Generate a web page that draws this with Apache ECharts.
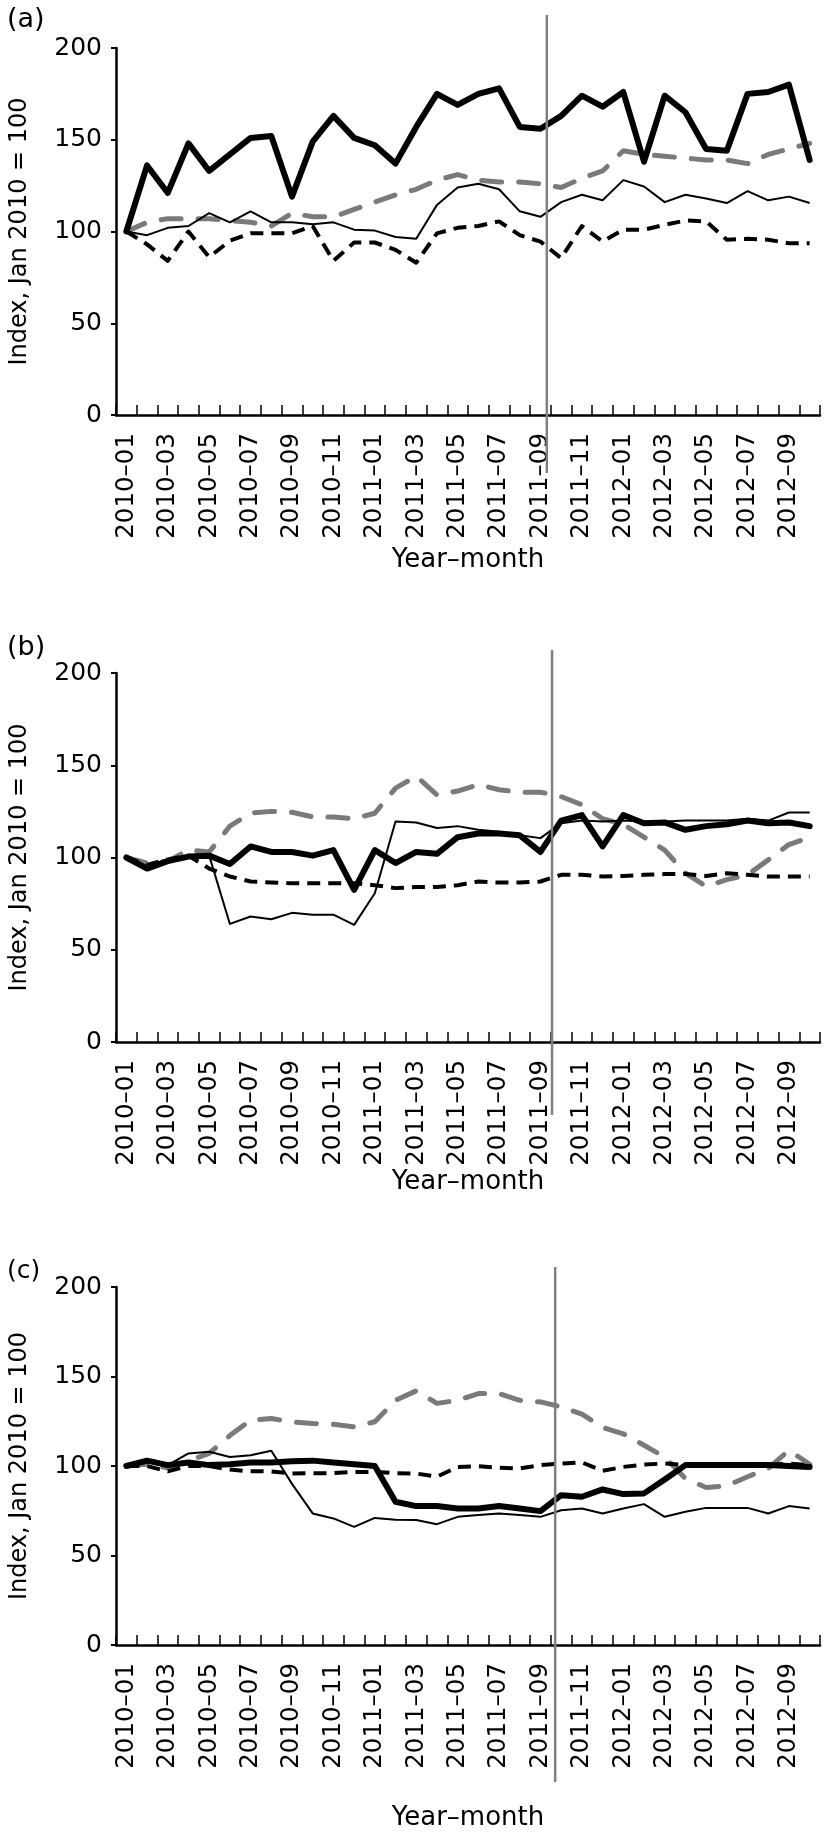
<!DOCTYPE html>
<html><head><meta charset="utf-8">
<script src="https://cdn.jsdelivr.net/npm/echarts@6/dist/echarts.min.js"></script>
<style>html,body{margin:0;padding:0;background:#fff}#c{width:825px;height:1832px}</style>
</head><body><div id="c"></div>
<script>
// ---------- data ----------
const months = [
  '2010–01','2010–02','2010–03','2010–04','2010–05','2010–06','2010–07','2010–08','2010–09','2010–10','2010–11','2010–12',
  '2011–01','2011–02','2011–03','2011–04','2011–05','2011–06','2011–07','2011–08','2011–09','2011–10','2011–11','2011–12',
  '2012–01','2012–02','2012–03','2012–04','2012–05','2012–06','2012–07','2012–08','2012–09','2012–10'
];
const yTickValues = [0, 50, 100, 150, 200];
const panelLabels = ['(a)', '(b)', '(c)'];
const xAxisTitle = 'Year–month';
const yAxisTitle = 'Index, Jan 2010 = 100';

// panel (a)
const aThick = [100,136,121,148,133,142,151,152,119,149,163,151,147,137,157,175,169,175,178,157,156,163,174,168,176,138,174,165,145,144,175,176,180,139];
const aThin = [100,98,102,103,110,105,111,105,105,104,105,101,100.5,97,96,114.5,124,126,123,111,108,116,120,117,128,124.5,116,120,118,115.5,122,117,119,115.5];
const aGrayDash = [100,105,107,107,107,106,105,103,110,108,108,112,116,120,123,128,131,128,127,127,126,124,129,133,144,142,141,140,139,139,137,142,145,148];
const aBlackDash = [100,93,84,100,86,95,99,99,99,103,84,94,94,90,83,99,102,103,105.5,98,94.5,85.5,103,94.5,101,101,103.6,106,105.5,95.5,96,95.5,93.6,93.6];

// panel (b)
const bThick = [100,94,98,100.5,101,96.5,106,103,103,101,104,82.5,104,97,103,102,111,113,113,112,103,120,123,106,123,118.6,119,115,117,118,120,118.6,119,117];
const bThin = [100,95,99,100,101,64,68,66.5,70,69,69,63.5,80.6,119.5,119,116,117,115,114,112,110.5,118.6,120,119.5,120,119.5,119.5,120,120,120,121,120,124.4,124.4];
const bGrayDash = [100,97,98,104,103,117,124,125,124.5,122,122,121,124,137.6,144,134,136,139.5,136.7,135.4,135.4,133,128.6,121,118,111,104,91.5,84.3,88,90.6,98.7,107,111];
const bBlackDash = [100,96,99,101,94,89.7,87,86.4,86,86,86,86,85,83.4,84,84,85,87,86.4,86.4,87,90.6,90.6,89.7,90,90.6,91,91,90,91.5,90.6,89.7,89.7,89.7];

// panel (c)
const cThick = [100,103,100.5,102,100.5,101,102,102,102.7,103,102,101,100,80,77.6,77.6,76.3,76.3,77.6,76.3,74.8,83.7,82.8,86.9,84.3,84.7,92.5,100.5,100.5,100.5,100.5,100.5,100,99.5];
const cThin = [100,102,100.5,107,108,105,106,108.5,90,73.5,70.7,66,71,70,69.8,67.5,71.6,72.6,73.5,72.6,71.6,75.3,76.3,73.5,76.3,78.7,71.6,74.4,76.6,76.6,76.6,73.5,77.6,76.3];
const cGrayDash = [100,101,99,103,107,117,125.6,126.5,124.7,123.7,123.3,121.9,124.7,136.7,142,135,136.7,140.5,140.5,136.7,135.8,133,129,121.5,118,111.6,105,93,88,89,94,98.6,108.8,101];
const cBlackDash = [100,100,97,100,100,98,97,97,95.8,96,96,96.7,96.7,96,95.8,94,99.5,99.9,99,98.6,100.5,101.4,102,97.3,99.5,100.8,101.4,100.5,100,100.5,100.5,100.5,101.4,100.5];

// intervention marker position (in months from start of 2010–01, boundary units)
const interventionPos = [20.9, 21.15, 21.3];

// ---------- layout ----------
const FONT = 'DejaVu Sans';
const panels = [
  { label: panelLabels[0], labelTop: 1, labelSize: 27, top: 48, height: 367, nameGap: 132,
    vTop: 15, vHeight: 458, data: [aThick, aThin, aGrayDash, aBlackDash] },
  { label: panelLabels[1], labelTop: 629, labelSize: 27, top: 673, height: 369, nameGap: 127,
    vTop: 650, vHeight: 465, data: [bThick, bThin, bGrayDash, bBlackDash] },
  { label: panelLabels[2], labelTop: 1254, labelSize: 25, top: 1287, height: 358, nameGap: 160,
    vTop: 1267, vHeight: 515, data: [cThick, cThin, cGrayDash, cBlackDash] }
];

const grid = [], xAxis = [], yAxis = [], series = [], title = [];
const styles = [
  // drawn order: gray dashed, black dashed, thin, thick
  { idx: 2, color: '#7a7a7a', width: 5, type: [20, 17], cap: 'round' },
  { idx: 3, color: '#000', width: 4, type: [13, 8], cap: 'butt' },
  { idx: 1, color: '#000', width: 2, type: 'solid', cap: 'butt' },
  { idx: 0, color: '#000', width: 6, type: 'solid', cap: 'round' }
];

panels.forEach((p, k) => {
  title.push({ text: p.label, left: 2, top: p.labelTop,
    textStyle: { fontFamily: FONT, fontSize: p.labelSize, fontWeight: 'normal', color: '#000' } });
  grid.push({ left: 111, right: 5, top: p.top, height: p.height, containLabel: false });
  xAxis.push({
    type: 'category', gridIndex: k, data: months, boundaryGap: true,
    name: xAxisTitle, nameLocation: 'middle', nameGap: p.nameGap, nameMoveOverlap: false,
    nameTextStyle: { fontFamily: FONT, fontSize: 26, color: '#000' },
    axisLine: { lineStyle: { color: '#000', width: 2.5 } },
    axisTick: { show: true, inside: true, length: 10, interval: 0, lineStyle: { color: '#000', width: 1.5 } },
    axisLabel: { interval: 1, rotate: 90, margin: 18, fontFamily: FONT, fontSize: 24.5, color: '#000' },
    splitLine: { show: false }
  });
  yAxis.push({
    type: 'value', gridIndex: k, min: yTickValues[0], max: yTickValues[yTickValues.length - 1],
    interval: yTickValues[1] - yTickValues[0],
    name: yAxisTitle, nameLocation: 'middle', nameGap: 84, nameMoveOverlap: false,
    nameTextStyle: { fontFamily: FONT, fontSize: 24, color: '#000' },
    axisLine: { show: true, lineStyle: { color: '#000', width: 2.5 } },
    axisTick: { show: true, length: 5, lineStyle: { color: '#000', width: 2 } },
    axisLabel: { margin: 14, fontFamily: FONT, fontSize: 25, color: '#000' },
    splitLine: { show: false }
  });
  styles.forEach(s => {
    series.push({
      type: 'line', xAxisIndex: k, yAxisIndex: k, data: p.data[s.idx],
      showSymbol: false, symbol: 'none', silent: true, animation: false,
      lineStyle: { color: s.color, width: s.width, type: s.type, cap: s.cap, join: 'round' },
      z: 2
    });
  });
});

// overlay grids for the vertical intervention line
panels.forEach((p, k) => {
  const gi = 3 + k;
  grid.push({ left: 111, right: 5, top: p.vTop, height: p.vHeight });
  xAxis.push({ type: 'value', gridIndex: gi, min: 0, max: months.length, show: false });
  yAxis.push({ type: 'value', gridIndex: gi, min: 0, max: 1, show: false });
  series.push({
    type: 'line', xAxisIndex: gi, yAxisIndex: gi,
    data: [[interventionPos[k], 0], [interventionPos[k], 1]],
    showSymbol: false, symbol: 'none', silent: true, animation: false,
    lineStyle: { color: '#808080', width: 2.5 }, z: 5
  });
});

const chart = echarts.init(document.getElementById('c'), null, { renderer: 'canvas' });
chart.setOption({ backgroundColor: '#fff', animation: false, title, grid, xAxis, yAxis, series });
</script></body></html>
